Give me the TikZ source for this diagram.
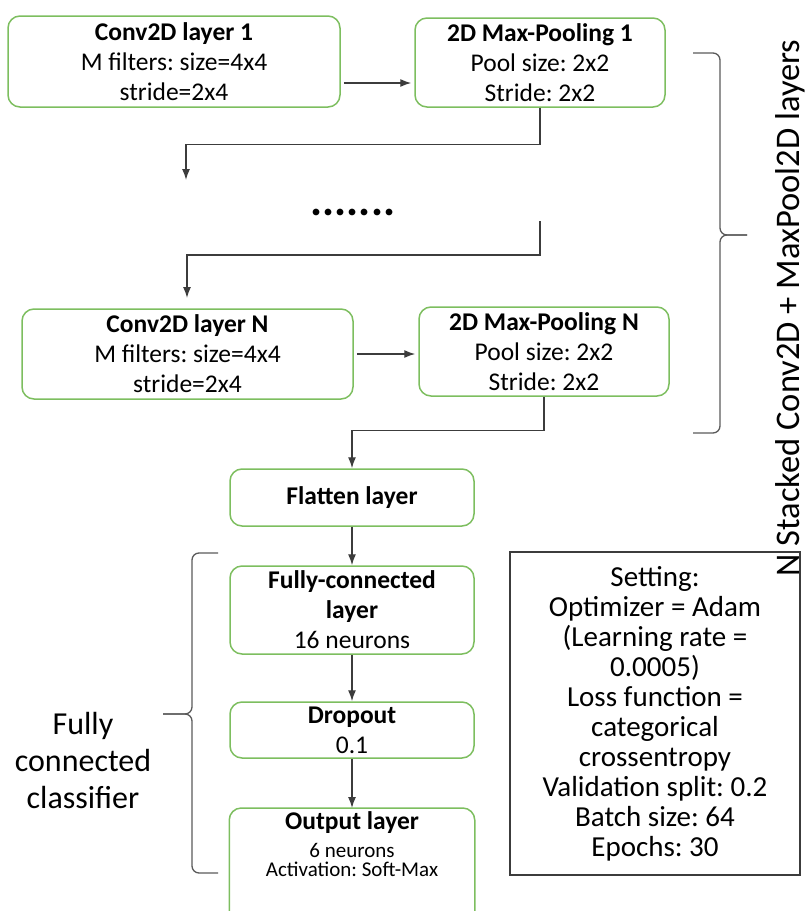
\documentclass[tikz,border=0pt]{standalone}
\usepackage{fontspec}
\setmainfont{Carlito}
\frenchspacing
\usetikzlibrary{arrows.meta}
\definecolor{boxgreen}{RGB}{125,190,95}
\definecolor{linegray}{RGB}{60,60,60}
\definecolor{bracegray}{RGB}{90,90,90}

\begin{document}
\begin{tikzpicture}[x=1pt,y=-1pt]
\tikzset{layerbox/.style={draw=boxgreen, line width=1.5pt, rounded corners=12pt, align=center, inner sep=2pt, minimum width=244pt, font=\fontsize{25.5}{30}\selectfont},
flow/.style={draw=linegray, line width=1.3pt, -{Latex[length=11pt,width=8pt]}},
bracket/.style={draw=bracegray, line width=1.3pt, rounded corners=7pt}}
\useasboundingbox (0,0) rectangle (811,911);
\clip (0,0) rectangle (811,911);
% stacked conv / pooling part
\node[layerbox, minimum width=332pt, minimum height=91pt] (C1) at (174,61.5) {\textbf{Conv2D layer 1}\\M filters: size=4x4\\stride=2x4};
\node[layerbox, minimum width=250pt, minimum height=89pt] (P1) at (540,62.5) {\textbf{2D Max-Pooling 1}\\Pool size: 2x2\\Stride: 2x2};
\node[font=\fontsize{45}{50}\selectfont\bfseries, anchor=base] (dots) at (353,215) {.......};
\node[layerbox, minimum width=331pt, minimum height=90pt] (CN) at (187.5,354) {\textbf{Conv2D layer N}\\M filters: size=4x4\\stride=2x4};
\node[layerbox, minimum width=250pt, minimum height=89pt] (PN) at (544,351.5) {\textbf{2D Max-Pooling N}\\Pool size: 2x2\\Stride: 2x2};
% classifier part
\node[layerbox, minimum height=57pt] (FL) at (352,497.5) {\textbf{Flatten layer}};
\node[layerbox, minimum height=88pt] (FC) at (352,610) {\textbf{Fully-connected}\\\textbf{layer}\\16 neurons};
\node[layerbox, minimum height=56pt] (DR) at (352,730) {\textbf{Dropout}\\0.1};
\node[layerbox, draw=none, anchor=north, inner ysep=3pt] (OUT) at (352,808) {\textbf{Output layer}\\[-2pt]\fontsize{21}{22}\selectfont 6 neurons\\[-11pt]\fontsize{21}{22}\selectfont Activation: Soft-Max};
\draw[draw=boxgreen, line width=1.5pt, rounded corners=12pt] (OUT.north west) rectangle ([yshift=-130pt]OUT.north east);
\node[draw=linegray, line width=1.3pt, minimum width=290pt, minimum height=323pt, align=center, font=\fontsize{29}{30}\selectfont] (SET) at (655,713.5) {Setting:\\Optimizer = Adam\\(Learning rate =\\0.0005)\\Loss function =\\categorical\\crossentropy\\Validation split: 0.2\\Batch size: 64\\Epochs: 30};
\node[align=center, font=\fontsize{32}{37}\selectfont] (FCC) at (83,760) {Fully\\connected\\classifier};
\node[rotate=90, font=\fontsize{34.5}{40}\selectfont] (NST) at (790,308) {N Stacked Conv2D + MaxPool2D layers};
\coordinate (gapA) at (186,180);
\coordinate (gapB) at (540,221);
\coordinate (gapC) at (187,298);
\draw[flow, shorten <=3pt, shorten >=3pt] ([yshift=-21.5pt]C1.east) -- ([yshift=-21.5pt]C1.east -| P1.west);
\draw[flow] (P1.south) -- ++(0,37) -| (gapA);
\draw[flow] (gapB) -- ++(0,34) -| (gapC);
\draw[flow, shorten <=3pt, shorten >=3pt] (CN.east) -- (CN.east -| PN.west);
\draw[flow] (PN.south) -- ++(0,34) -| (FL.north);
\draw[flow] (FL) -- (FC);
\draw[flow] (FC) -- (DR);
\draw[flow] (DR) -- (OUT);
% braces
\draw[bracket] (693,53) -| (720,235) -- (747,235);
\draw[bracket] (693,433) -| (720,235) -- (747,235);
\draw[bracket] (218,553) -| (192,714) -- (163,714);
\draw[bracket] (218,873) -| (192,714) -- (163,714);
\end{tikzpicture}
\end{document}
